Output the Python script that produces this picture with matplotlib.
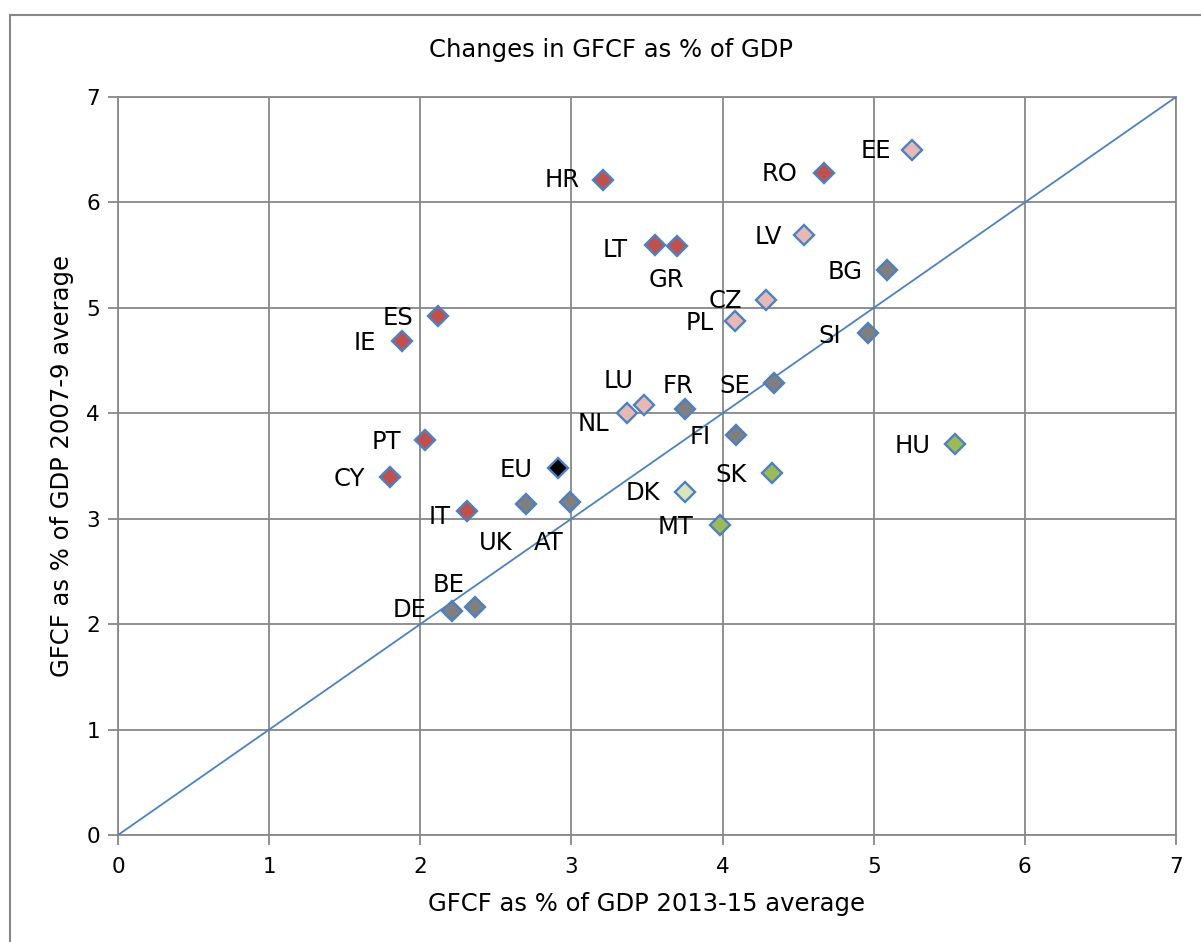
import numpy as np
import matplotlib
matplotlib.use('Agg')
import matplotlib.pyplot as plt
from matplotlib.lines import Line2D

# GFCF as % of GDP: 2013-15 average (x) vs 2007-9 average (y)
countries = ['HR', 'RO', 'EE', 'LT', 'GR', 'LV', 'BG', 'CZ', 'PL', 'SI',
             'ES', 'IE', 'LU', 'NL', 'FR', 'SE', 'FI', 'HU', 'PT', 'EU',
             'CY', 'SK', 'DK', 'IT', 'UK', 'AT', 'MT', 'DE', 'BE']
gfcf_2013_15 = [3.21, 4.67, 5.25, 3.55, 3.70, 4.54, 5.09, 4.29, 4.08, 4.96,
                2.12, 1.88, 3.48, 3.37, 3.75, 4.34, 4.09, 5.54, 2.03, 2.91,
                1.80, 4.33, 3.75, 2.31, 2.70, 2.99, 3.98, 2.21, 2.36]
gfcf_2007_09 = [6.21, 6.28, 6.50, 5.60, 5.59, 5.69, 5.36, 5.07, 4.88, 4.76,
                4.92, 4.69, 4.08, 4.00, 4.04, 4.29, 3.79, 3.71, 3.75, 3.48,
                3.40, 3.43, 3.25, 3.07, 3.14, 3.16, 2.94, 2.12, 2.16]
groups = ['red', 'red', 'pink', 'red', 'red', 'pink', 'grey', 'pink', 'pink', 'grey',
          'red', 'red', 'pink', 'pink', 'grey', 'grey', 'grey', 'green', 'red', 'black',
          'red', 'green', 'lightgreen', 'red', 'grey', 'grey', 'green', 'grey', 'grey']

group_colors = {
    'red': '#C0504D',
    'pink': '#E6B9B8',
    'grey': '#7F7F7F',
    'green': '#9BBB59',
    'lightgreen': '#D7E4BD',
    'black': '#000000',
}

# label offsets in pixels (dx, dy, horizontal alignment)
label_pos = {
    'HR': (-24, 0, 'right'), 'RO': (-26, -1, 'right'), 'EE': (-20, -1, 'right'),
    'LT': (-27, -5, 'right'), 'GR': (-11, -34, 'center'), 'LV': (-22, -2, 'right'),
    'BG': (-25, -2, 'right'), 'CZ': (-24, -1, 'right'), 'PL': (-21, -2, 'right'),
    'SI': (-27, -3, 'right'), 'ES': (-25, -2, 'right'), 'IE': (-26, -2, 'right'),
    'LU': (-25, 24, 'center'), 'NL': (-18, -11, 'right'), 'FR': (-7, 23, 'center'),
    'SE': (-24, -3, 'right'), 'FI': (-25, -2, 'right'), 'HU': (-25, -2, 'right'),
    'PT': (-24, -2, 'right'), 'EU': (-25, -2, 'right'), 'CY': (-25, -2, 'right'),
    'SK': (-26, -2, 'right'), 'DK': (-25, -1, 'right'), 'IT': (-16, -6, 'right'),
    'UK': (-30, -39, 'center'), 'AT': (-21, -41, 'center'), 'MT': (-26, -2, 'right'),
    'DE': (-26, 1, 'right'), 'BE': (-26, 22, 'center'),
}

fig = plt.figure(figsize=(12.01, 9.42), dpi=100)
ax = fig.add_axes([118 / 1201, 1 - 835 / 942, 1058 / 1201, 738 / 942])

# outer chart frame (left and top edges visible)
fig.add_artist(Line2D([10 / 1201, 10 / 1201], [0, 1 - 15 / 942], transform=fig.transFigure,
                      color='#878787', linewidth=1.5))
fig.add_artist(Line2D([10 / 1201, 1.0], [1 - 15 / 942, 1 - 15 / 942], transform=fig.transFigure,
                      color='#878787', linewidth=1.5))

# 45 degree line
ax.plot([0, 7], [0, 7], color='#4F81BD', linewidth=1.3, zorder=3)

for name, x, y, g in zip(countries, gfcf_2013_15, gfcf_2007_09, groups):
    ax.plot(x, y, marker='D', markersize=10, markerfacecolor=group_colors[g],
            markeredgecolor='#4F81BD', markeredgewidth=1.7, linestyle='none', zorder=4)
    dx, dy, ha = label_pos[name]
    ax.annotate(name, (x, y), xytext=(dx, dy), textcoords='offset pixels',
                ha=ha, va='center', fontsize=17.5, color='black', zorder=5)

ax.set_xlim(0, 7)
ax.set_ylim(0, 7)
ax.set_xticks(range(8))
ax.set_yticks(range(8))
ax.grid(True, color='#888888', linewidth=1.3)
ax.set_axisbelow(True)
for s in ax.spines.values():
    s.set_color('#888888')
    s.set_linewidth(1.3)
ax.tick_params(axis='both', colors='#888888', length=7, width=1.3, labelsize=15.5,
               labelcolor='black', pad=6)
ax.tick_params(axis='x', pad=9)

ax.set_xlabel('GFCF as % of GDP 2013-15 average', fontsize=17.5, labelpad=11)
ax.set_ylabel('GFCF as % of GDP 2007-9 average', fontsize=17.5, labelpad=9)
fig.text(611 / 1201, 1 - 50 / 942, 'Changes in GFCF as % of GDP', ha='center', va='center',
         fontsize=17.5)

fig.savefig('out.png', dpi=100)
